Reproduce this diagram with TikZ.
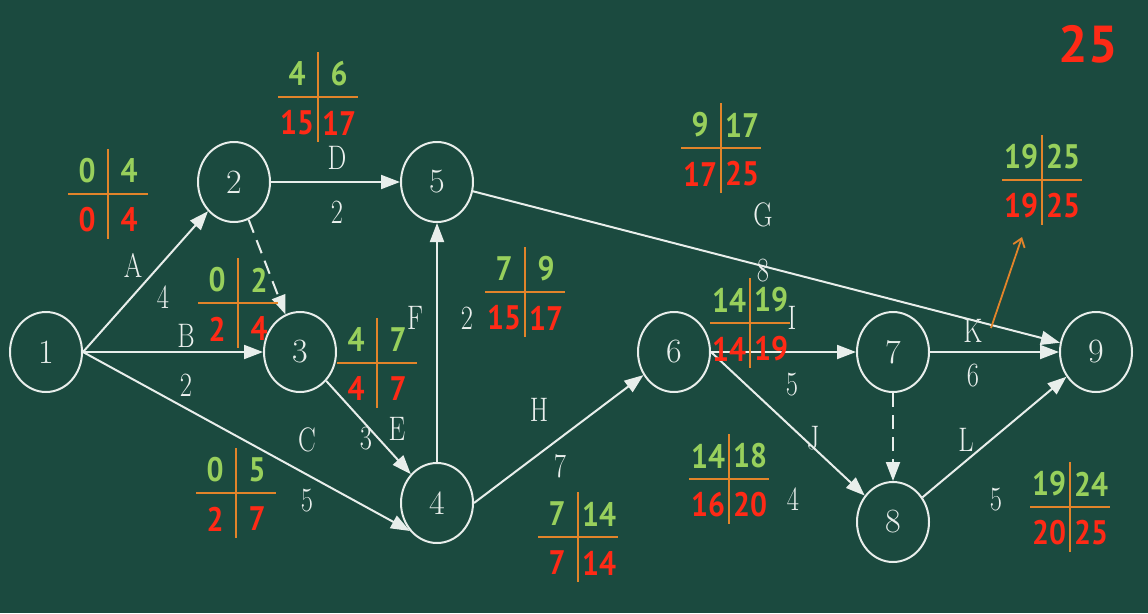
\documentclass[tikz,border=0pt]{standalone}
\usepackage{fontspec}
\newfontfamily\numfont{PT Sans}
\usetikzlibrary{arrows.meta,shapes.geometric}
\definecolor{bg}{RGB}{27,74,63}
\definecolor{gnum}{RGB}{152,208,92}
\definecolor{rnum}{RGB}{255,42,22}
\definecolor{oline}{RGB}{226,132,42}
\definecolor{chalk}{RGB}{232,238,235}
\newcommand\nrw[1]{\scalebox{0.78}[1]{#1}}
\newcommand\nnum[1]{\scalebox{0.88}[1]{#1}}
\tikzset{
  ev/.style={ellipse,draw=chalk,line width=2pt,minimum width=72pt,minimum height=80pt,inner sep=0pt,
    text=chalk,font=\fontsize{34}{34}\selectfont},
  act/.style={draw=chalk,line width=2pt,-{Triangle[length=19pt,width=14pt]}},
  dum/.style={act,dash pattern=on 14pt off 8pt},
  lab/.style={text=chalk!85,font=\fontsize{34}{34}\selectfont,inner sep=0pt},
  gn/.style={text=gnum,font=\numfont\bfseries\fontsize{34}{34}\selectfont,inner sep=0pt},
  rn/.style={text=rnum,font=\numfont\bfseries\fontsize{34}{34}\selectfont,inner sep=0pt},
  crossline/.style={draw=oline,line width=1.4pt}
}
\newcommand\ctab[7]{%
  \coordinate (#1c) at (#2,#3);
  \coordinate (#1l) at (#2-40,#3);
  \coordinate (#1r) at (#2+40,#3);
  \coordinate (#1t) at (#2,#3-45);
  \coordinate (#1b) at (#2,#3+45);
  \draw[crossline] (#1l) -- (#1r);
  \draw[crossline] (#1t) -- (#1b);
  \node[gn] (#1a) at (#2-21,#3-23) {\nnum{#4}};
  \node[gn] (#1bb) at (#2+21,#3-23) {\nnum{#5}};
  \node[rn] (#1cc) at (#2-21,#3+26) {\nnum{#6}};
  \node[rn] (#1d) at (#2+21,#3+26) {\nnum{#7}};
}
\begin{document}
\begin{tikzpicture}[x=1pt,y=-1pt]
\fill[bg] (0,0) rectangle (1148,613);
\useasboundingbox (0,0) rectangle (1148,613);
% events
\node[ev] (n1) at (46,352) {1};
\node[ev] (n2) at (234,182) {2};
\node[ev] (n3) at (300,352) {3};
\node[ev] (n4) at (437,503) {4};
\node[ev] (n5) at (437,182) {5};
\node[ev] (n6) at (674,352) {6};
\node[ev] (n7) at (893,352) {7};
\node[ev] (n8) at (893,522) {8};
\node[ev] (n9) at (1096,352) {9};
% activities
\draw[act] (n1.east) -- (n2);
\draw[act] (n1.east) -- (n3);
\draw[act] (n1.east) -- (n4.226);
\draw[act] (n2) -- (n5);
\draw[dum] (n2) -- (n3);
\draw[act] (n3) -- (n4);
\draw[act] (n4) -- (n5);
\draw[act] (n4.east) -- (n6);
\draw[act] (n5) -- (n9);
\draw[act] (n6.east) -- (n7);
\draw[act] (n6.east) -- (n8);
\draw[act] (n7) -- (n9);
\draw[dum] (n7) -- (n8);
\draw[act] (n8) -- (n9);
% labels
\node[lab] (lA) at (133,265) {\nrw{A}};
\node[lab] (wA) at (163,297) {\nrw{4}};
\node[lab] (lB) at (186,336) {\nrw{B}};
\node[lab] (wB) at (186,385) {\nrw{2}};
\node[lab] (lC) at (307,440) {\nrw{C}};
\node[lab] (wC) at (307,501) {\nrw{5}};
\node[lab] (lD) at (337,158) {\nrw{D}};
\node[lab] (wD) at (337,212) {\nrw{2}};
\node[lab] (lE) at (397,429) {\nrw{E}};
\node[lab] (wE) at (366,439) {\nrw{3}};
\node[lab] (lF) at (415,318) {\nrw{F}};
\node[lab] (wF) at (467,318) {\nrw{2}};
\node[lab] (lH) at (539,410) {\nrw{H}};
\node[lab] (wH) at (560,466) {\nrw{7}};
\node[lab] (lG) at (763,215) {\nrw{G}};
\node[lab] (wG) at (763,271) {\nrw{8}};
\node[lab] (lI) at (792,318) {\nrw{I}};
\node[lab] (wI) at (792,385) {\nrw{5}};
\node[lab] (lJ) at (813,438) {\nrw{J}};
\node[lab] (wJ) at (793,499) {\nrw{4}};
\node[lab] (lK) at (973,331) {\nrw{K}};
\node[lab] (wK) at (973,376) {\nrw{6}};
\node[lab] (lL) at (966,440) {\nrw{L}};
\node[lab] (wL) at (996,500) {\nrw{5}};
% time tables
\ctab{ta}{108}{194}{0}{4}{0}{4}
\ctab{tb}{318}{97}{4}{6}{15}{17}
\ctab{tc}{238}{303}{0}{2}{2}{4}
\ctab{td}{377}{363}{4}{7}{4}{7}
\ctab{te}{525}{292}{7}{9}{15}{17}
\ctab{tf}{721}{148}{9}{17}{17}{25}
\ctab{tg}{1042}{180}{19}{25}{19}{25}
\ctab{th}{750}{323}{14}{19}{14}{19}
\ctab{ti}{236}{493}{0}{5}{2}{7}
\ctab{tj}{578}{537}{7}{14}{7}{14}
\ctab{tk}{729}{479}{14}{18}{16}{20}
\ctab{tl}{1070}{507}{19}{24}{20}{25}
% orange pointer
\coordinate (oa) at (991,328);
\coordinate (ob) at (1022,237);
\draw[draw=oline,line width=1.8pt,-{Straight Barb[length=8pt,width=12pt]}] (oa) -- (ob);
% total
\node[rn,font=\numfont\bfseries\fontsize{52}{52}\selectfont] (tot) at (1088,44) {25};
\end{tikzpicture}
\end{document}
